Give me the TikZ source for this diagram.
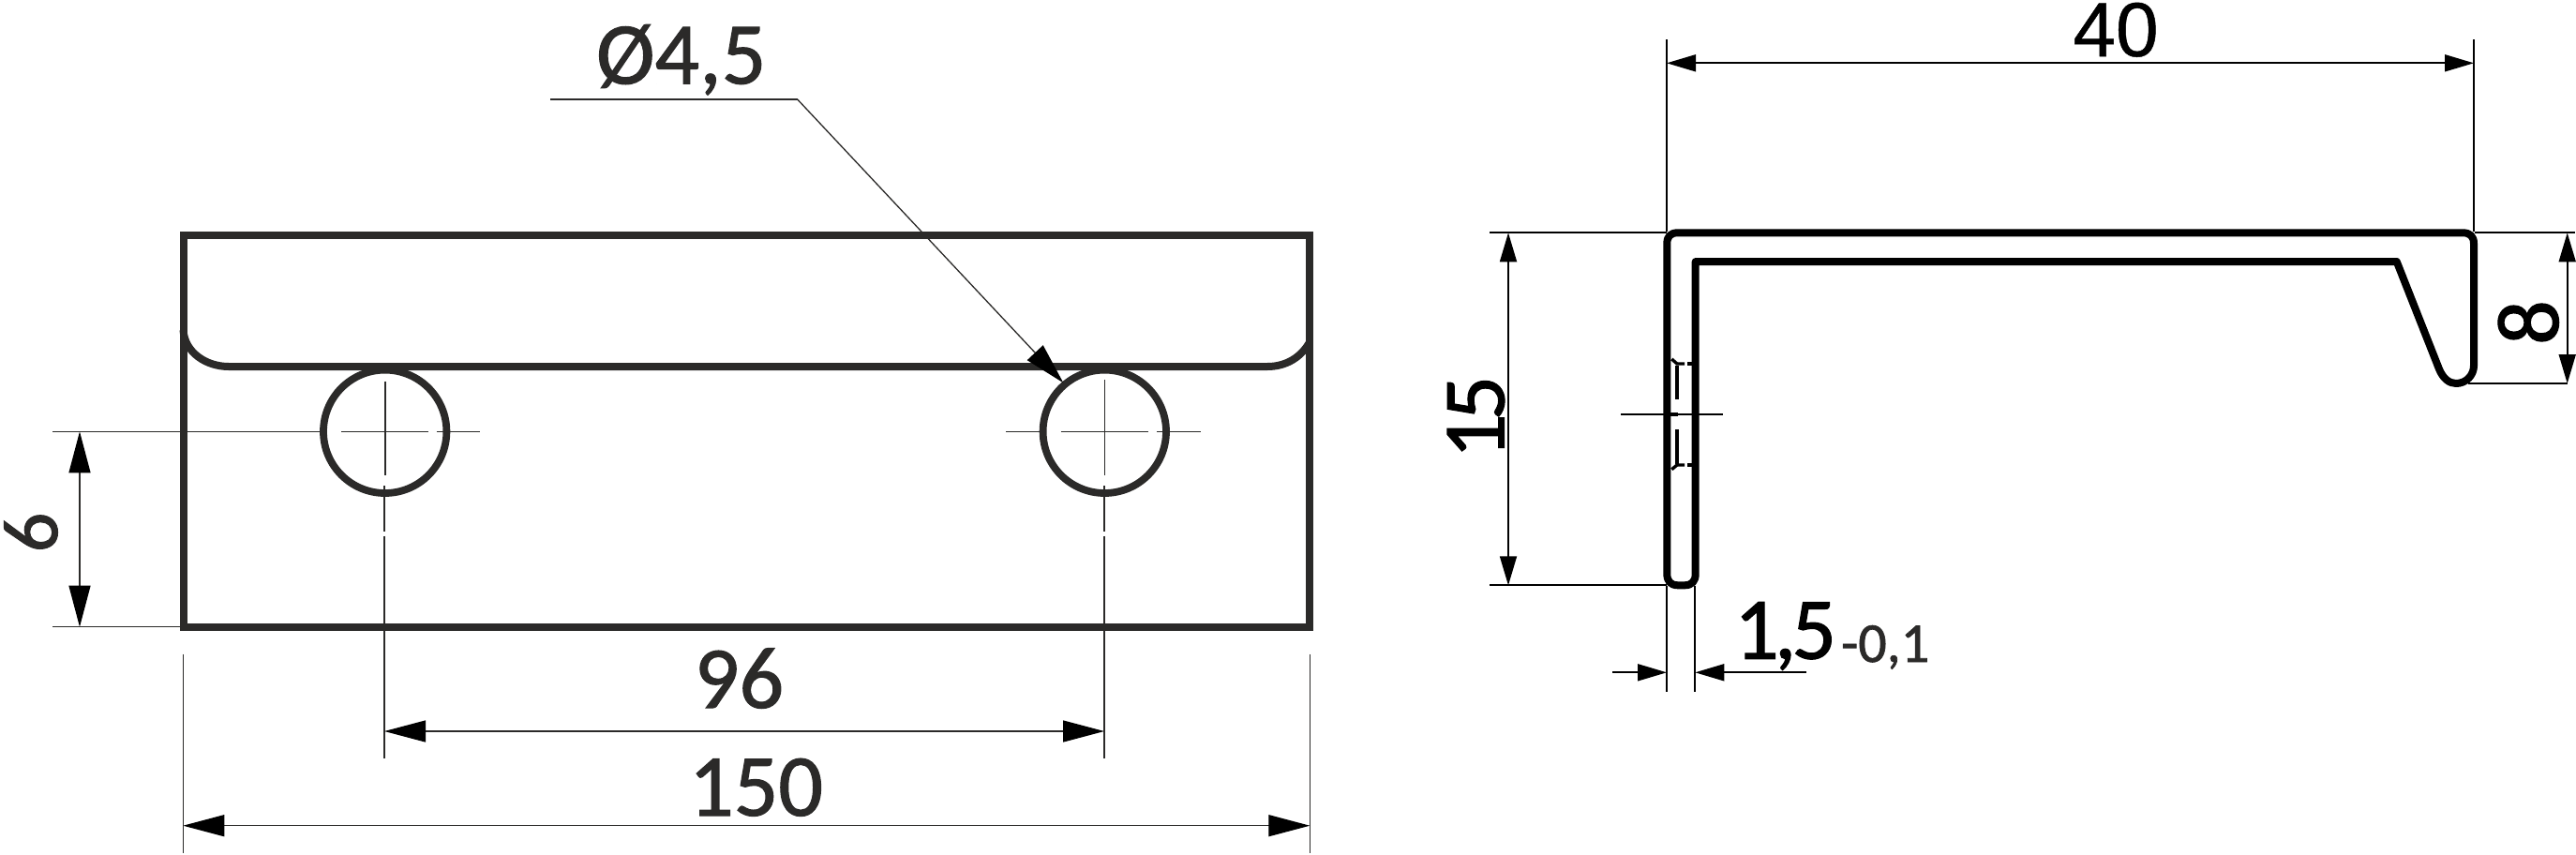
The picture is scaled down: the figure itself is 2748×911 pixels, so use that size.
\documentclass[tikz,border=0pt]{standalone}
\usepackage{fontspec}
\setmainfont{Carlito}[FakeBold=1.2]
\newfontfamily\arialfont{Liberation Sans}[FakeBold=0.6]
\usetikzlibrary{arrows.meta}
\definecolor{ink}{HTML}{2B2A29}
\tikzset{
  part/.style={draw=ink,line width=8pt,miter limit=10},
  hole/.style={draw=ink,line width=7.8pt},
  prof/.style={draw=black,line width=8pt,line join=round},
  hid/.style={draw=black,line width=3.4pt},
  thin/.style={draw=ink,line width=1.3pt},
  thinb/.style={draw=black,line width=1.8pt},
  dimL/.style={thin,{Triangle[length=44pt,width=23pt,color=black]}-{Triangle[length=44pt,width=23pt,color=black]}},
  dimR/.style={thinb,{Triangle[length=31pt,width=18pt]}-{Triangle[length=31pt,width=18pt]}},
  headR/.style={thinb,-{Triangle[length=31pt,width=18pt]}},
  headL/.style={thin,-{Triangle[length=44pt,width=23pt,color=black]}},
  big/.style={inner sep=0pt,font=\fontsize{94}{100}\selectfont},
  small/.style={inner sep=0pt,font=\fontsize{60}{66}\selectfont},
}
\begin{document}
\begin{tikzpicture}[x=1pt,y=-1pt]
\useasboundingbox (0,0) rectangle (2748,911);
% --- named points of the left view
\coordinate (rTL) at (195.5,251);
\coordinate (rBR) at (1397,668.7);
\coordinate (hA) at (410.7,460.3);
\coordinate (hB) at (1178.3,460.3);
\coordinate (d6a) at (85,460.3);
\coordinate (d6b) at (85,668.7);
\coordinate (e6a) at (56,460.3);
\coordinate (e6a2) at (342,460.3);
\coordinate (e6b) at (56,668.7);
\coordinate (e6b2) at (192,668.7);
\coordinate (d96a) at (410,780);
\coordinate (d96b) at (1178,780);
\coordinate (d150a) at (195.3,880.7);
\coordinate (d150b) at (1397.3,880.7);
\coordinate (e150a) at (195.3,697.7);
\coordinate (e150a2) at (195.3,910);
\coordinate (e150b) at (1397.3,697.7);
\coordinate (e150b2) at (1397.3,910);
\coordinate (l0) at (587,106);
\coordinate (l1) at (850.7,106);
\coordinate (l2) at (1134.3,408.3);
% --- left view outline
\draw[part] (rTL) rectangle (rBR);
\draw[part] (195.5,352) .. controls (197,376) and (220,391) .. (244,391)
  -- (1352,391) .. controls (1372,391) and (1388,381) .. (1397,365);
\draw[hole] (hA) circle (65.7);
\draw[hole] (hB) circle (65.7);
% --- centre lines, left hole
\draw[thin] (e6a) -- (e6a2);
\draw[thin] (e6b) -- (e6b2);
\draw[thin] (364,460.3) -- (457,460.3);
\draw[thin] (465.7,460.6) -- (512,460.6);
\draw[thin] (410.9,406.7) -- (410.9,506.7);
\draw[thin] (410,518) -- (410,566.7);
\draw[thin] (410,571.7) -- (410,809);
% --- centre lines, right hole
\draw[thin] (1073,460.6) -- (1110,460.6);
\draw[thin] (1131.7,460.3) -- (1225,460.3);
\draw[thin] (1234,460.6) -- (1280.7,460.6);
\draw[thin] (1178.6,405) -- (1178.6,506.7);
\draw[thin] (1178,518) -- (1178,566.7);
\draw[thin] (1178,571.7) -- (1178,809);
% --- dimensions left view
\draw[dimL] (d6a) -- (d6b);
\draw[dimL] (d96a) -- (d96b);
\draw[dimL] (d150a) -- (d150b);
\draw[thin] (e150a) -- (e150a2);
\draw[thin] (e150b) -- (e150b2);
\draw[thin] (l0) -- (l1);
\draw[headL] (l1) -- (l2);
\node[inner sep=0pt,font=\fontsize{84}{90}\selectfont,text=ink,rotate=90,anchor=base] (t6) at (61,568) {6};
\node[big,text=ink,anchor=base] (t96) at (788.5,755) {96};
\node[big,text=ink,anchor=base] (t150) at (806.5,870) {150};
\node[big,text=ink,anchor=base] (tphi) at (726.7,89.3) {Ø4,5};
% --- right view: profile
\draw[prof] (1778.3,260) -- (1778.3,612) .. controls (1778.3,620) and (1782,624.3) .. (1790,624.3)
  -- (1797,624.3) .. controls (1805,624.3) and (1808.7,620) .. (1808.7,612)
  -- (1808.7,279) -- (2556.7,279) -- (2601.7,393)
  .. controls (2606,404) and (2613,409) .. (2620,409)
  .. controls (2631,409) and (2639,400) .. (2639,390)
  -- (2639,260) .. controls (2639,252) and (2635,248.3) .. (2627,248.3)
  -- (1790,248.3) .. controls (1782,248.3) and (1778.3,252) .. cycle;
% --- hidden marks
\draw[hid] (1789,390) -- (1789,425.7);
\draw[hid] (1789,458) -- (1789,495);
\draw[hid] (1783.3,383) -- (1789,388) -- (1797,388);
\draw[hid] (1800,388) -- (1807,388);
\draw[hid] (1783.3,500.7) -- (1789,496) -- (1797,496);
\draw[hid] (1800,496) -- (1807,496);
\draw[thinb] (1729,442) -- (1837.7,442);
\draw[hid] (1778,442) -- (1790,442);
% --- dimensions right view
\coordinate (d40a) at (1778,67.3);
\coordinate (d40b) at (2639,67.3);
\coordinate (d15a) at (1609,248.3);
\coordinate (d15b) at (1609,624.3);
\coordinate (d8a) at (2738.7,248.3);
\coordinate (d8b) at (2738.7,409);
\coordinate (w1) at (1778,717.3);
\coordinate (w2) at (1808.3,717.3);
\coordinate (w1t) at (1720,717.3);
\coordinate (w2t) at (1926.7,717.3);
\draw[dimR] (d40a) -- (d40b);
\draw[dimR] (d15a) -- (d15b);
\draw[dimR] (d8a) -- (d8b);
\draw[headR] (w1t) -- (w1);
\draw[headR] (w2t) -- (w2);
\draw[thinb] (1778,42) -- (1778,247);
\draw[thinb] (2639,42) -- (2639,247);
\draw[thinb] (1589,248.3) -- (1778,248.3);
\draw[thinb] (1589,624.3) -- (1778,624.3);
\draw[thinb] (2640,248.3) -- (2747,248.3);
\draw[thinb] (2633,409) -- (2738.7,409);
\draw[thinb] (1778,625) -- (1778,737.7);
\draw[thinb] (1808.3,625) -- (1808.3,737.7);
\node[big,rotate=90,anchor=base] (t15) at (1604.5,445) {1\kern-7pt 5};
\node[big,rotate=90,anchor=base] (t8) at (2729,344) {8};
\node[inner sep=0pt,anchor=base,font=\arialfont\fontsize{82}{86}\selectfont] (t40) at (2257,60) {40};
\node[big,anchor=base] (t15w) at (1904.5,702.7) {1\kern-5pt,\kern-5pt 5};
\node[small,text=ink,anchor=base] (ttol) at (2011,706) {-0,1};
\end{tikzpicture}
\end{document}
